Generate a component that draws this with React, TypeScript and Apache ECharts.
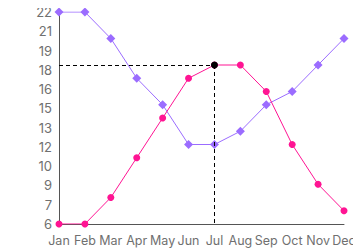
import React, { useEffect, useRef } from "react";
import * as echarts from "echarts";

const months = ["Jan", "Feb", "Mar", "Apr", "May", "Jun", "Jul", "Aug", "Sep", "Oct", "Nov", "Dec"];
const pinkValues = [6, 6, 8, 11, 14, 17, 18, 18, 16, 12, 9, 7];
const purpleValues = [22, 22, 20, 17, 15, 12, 12, 13, 15, 16, 18, 20];
const yMin = 6;
const yMax = 22;
const yTickCount = 11;
const highlightIndex = 6;

const step = (yMax - yMin) / yTickCount;
const toAxis = (v: number) => (v - yMin) / step;

export default function App() {
  const ref = useRef<HTMLDivElement>(null);
  useEffect(() => {
    if (!ref.current) return;
    const chart = echarts.init(ref.current, null, { renderer: "svg" });
    const hv = pinkValues[highlightIndex];
    chart.setOption({
      animation: false,
      grid: { left: 59, right: 17, top: 12, bottom: 26 },
      xAxis: {
        type: "category",
        data: months,
        boundaryGap: false,
        axisLine: { lineStyle: { color: "#555", width: 1 } },
        axisTick: { show: false },
        axisLabel: { color: "#707070", fontSize: 12.5, fontFamily: "Inter", margin: 10, interval: 0 },
      },
      yAxis: {
        type: "value",
        min: 0,
        max: yTickCount,
        interval: 1,
        splitLine: { show: false },
        axisLine: { show: true, lineStyle: { color: "#555", width: 1 } },
        axisTick: { show: false },
        axisLabel: {
          color: "#707070",
          fontSize: 13,
          fontFamily: "Inter",
          margin: 7,
          formatter: (v: number) => String(Math.round(yMin + v * step)),
        },
      },
      series: [
        {
          type: "line",
          data: purpleValues.map(toAxis),
          symbol: "diamond",
          symbolSize: 9,
          itemStyle: { color: "#9b6cff" },
          lineStyle: { color: "#9b6cff", width: 1 },
        },
        {
          type: "line",
          data: pinkValues.map(toAxis),
          symbol: "circle",
          symbolSize: 7,
          itemStyle: { color: "#ff1493" },
          lineStyle: { color: "#ff1493", width: 1 },
          markLine: {
            silent: true,
            symbol: "none",
            label: { show: false },
            lineStyle: { color: "#000", type: [4, 3], width: 1 },
            data: [
              [{ coord: [0, toAxis(hv)] }, { coord: [highlightIndex, toAxis(hv)] }],
              [{ coord: [highlightIndex, toAxis(hv)] }, { coord: [highlightIndex, 0] }],
            ],
          },
          markPoint: {
            symbol: "circle",
            symbolSize: 7,
            itemStyle: { color: "#000" },
            label: { show: false },
            data: [{ coord: [highlightIndex, toAxis(hv)] }],
          },
        },
      ],
    });
    return () => chart.dispose();
  }, []);
  return <div ref={ref} style={{ width: 361, height: 250, marginLeft: -8, marginTop: -8 }} />;
}
